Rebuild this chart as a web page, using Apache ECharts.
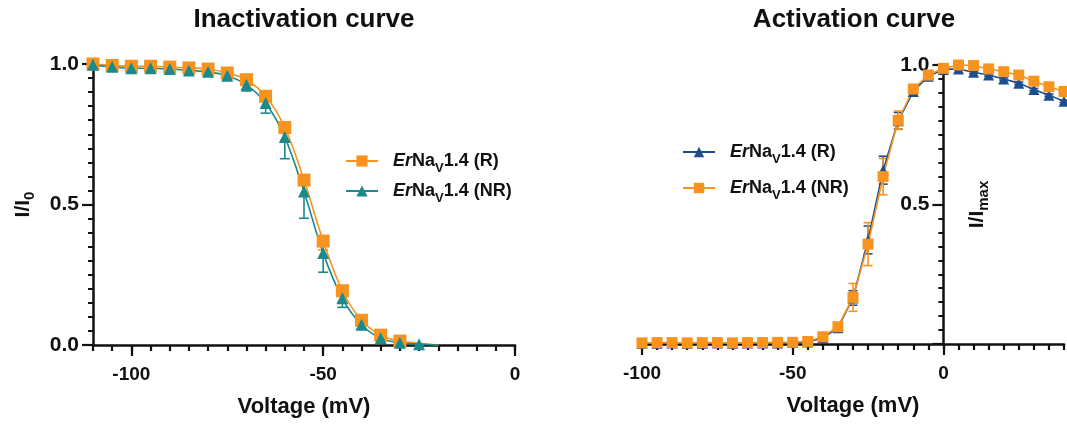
<!DOCTYPE html>
<html><head><meta charset="utf-8">
<script src="https://cdn.jsdelivr.net/npm/echarts@6/dist/echarts.min.js"></script>
<style>html,body{margin:0;padding:0;background:#fff}#c{width:1067px;height:427px}</style>
</head><body><div id="c"></div>
<script>
// ---------- Data ----------
const inactVoltage = [-110,-105,-100,-95,-90,-85,-80,-75,-70,-65,-60,-55,-50,-45,-40,-35,-30,-25];
const inactR      = [1.000,0.995,0.992,0.992,0.989,0.986,0.982,0.968,0.944,0.885,0.774,0.587,0.370,0.193,0.088,0.035,0.014,null];
const inactNR     = [0.997,0.990,0.985,0.985,0.982,0.977,0.972,0.958,0.926,0.861,0.740,0.546,0.327,0.166,0.072,0.024,0.008,0.003];
const inactErrR   = [0.003,0.003,0.003,0.003,0.003,0.004,0.005,0.006,0.008,0.012,0.044,0.056,0.032,0.040,0.012,0.006,0.004,null];
const inactErrNR  = [0.004,0.005,0.006,0.006,0.007,0.008,0.010,0.012,0.022,0.036,0.077,0.095,0.068,0.032,0.013,0.006,0.004,0.003];
const inactFitEnd = [-20, 0];

const actVoltage = [-100,-95,-90,-85,-80,-75,-70,-65,-60,-55,-50,-45,-40,-35,-30,-25,-20,-15,-10,-5,0,5,10,15,20,25,30,35,40];
const actR     = [0.003,0.003,0.004,0.003,0.003,0.004,0.003,0.004,0.004,0.004,0.005,0.007,0.022,0.058,0.165,0.373,0.623,0.800,0.905,0.960,0.984,0.986,0.974,0.964,0.950,0.935,0.912,0.892,0.870];
const actNR    = [0.004,0.005,0.005,0.004,0.005,0.005,0.004,0.005,0.005,0.006,0.006,0.009,0.026,0.062,0.167,0.358,0.600,0.802,0.914,0.964,0.988,1.000,0.998,0.986,0.976,0.964,0.942,0.922,0.905];
const actErrR  = [0.002,0.002,0.002,0.002,0.002,0.002,0.002,0.002,0.002,0.002,0.002,0.002,0.004,0.008,0.026,0.050,0.050,0.030,0.015,0.006,0.004,0.004,0.004,0.004,0.004,0.004,0.004,0.004,0.004];
const actErrNR = [0.002,0.002,0.002,0.002,0.002,0.002,0.002,0.002,0.002,0.002,0.002,0.002,0.004,0.010,0.050,0.077,0.065,0.033,0.012,0.006,0.004,0.003,0.003,0.003,0.003,0.003,0.003,0.003,0.003];

const xMajorTicks = [-100, -50, 0];
const yLabelsLeft = [0, 0.5, 1];
const yLabelsRight = [0.5, 1];
const titles = ['Inactivation curve', 'Activation curve'];
const legendSuffix = { inR: '(R)', inNR: '(NR)', acR: '(R)', acNR: '(NR)' };

// ---------- Style ----------
const FONT = 'Liberation Sans, Arial, Helvetica, sans-serif';
const ORANGE = '#F7931E', TEAL = '#1A8A8C', NAVY = '#1C4E8F';
const AX = '#111';

function pts(xs, ys) {
  const out = [];
  xs.forEach((x, i) => { if (ys[i] != null) out.push([x, ys[i]]); });
  return out;
}
function errData(xs, ys, errs, both) {
  const out = [];
  xs.forEach((x, i) => {
    if (ys[i] == null || errs[i] == null) return;
    out.push([x, ys[i], ys[i] - errs[i], both ? ys[i] + errs[i] : ys[i]]);
  });
  return out;
}
function errRender(capHalf, color) {
  return function (params, api) {
    const x = api.value(0), y = api.value(1), lo = api.value(2), hi = api.value(3);
    const pLo = api.coord([x, lo]), pHi = api.coord([x, hi]);
    const st = { stroke: color, lineWidth: 1.6 };
    const ch = [{ type: 'line', shape: { x1: pLo[0], y1: pLo[1], x2: pHi[0], y2: pHi[1] }, style: st }];
    if (lo < y) ch.push({ type: 'line', shape: { x1: pLo[0] - capHalf, y1: pLo[1], x2: pLo[0] + capHalf, y2: pLo[1] }, style: st });
    if (hi > y) ch.push({ type: 'line', shape: { x1: pHi[0] - capHalf, y1: pHi[1], x2: pHi[0] + capHalf, y2: pHi[1] }, style: st });
    return { type: 'group', children: ch };
  };
}

const richTxt = {
  b: { fontFamily: FONT, fontWeight: 'bold', fontSize: 21, color: AX, lineHeight: 28 },
  s: { fontFamily: FONT, fontWeight: 'bold', fontSize: 15, color: AX, verticalAlign: 'bottom' }
};
const legendRich = {
  it: { fontFamily: FONT, fontWeight: 'bold', fontStyle: 'italic', fontSize: 18, color: AX, lineHeight: 28 },
  n: { fontFamily: FONT, fontWeight: 'bold', fontSize: 18, color: AX, lineHeight: 28 },
  s: { fontFamily: FONT, fontWeight: 'bold', fontSize: 13, color: AX, verticalAlign: 'bottom' }
};
const legendFmt = name => '{it|Er}{n|Na}{s|V}{n|1.4 ' + legendSuffix[name] + '}';

function mainX(gridIndex, min, max) {
  return {
    type: 'value', gridIndex, min, max, interval: 5,
    axisLine: { onZero: false, lineStyle: { color: AX, width: 2.5 } },
    axisTick: { length: 6, lineStyle: { color: AX, width: 2.2 } },
    axisLabel: { customValues: xMajorTicks, margin: 20, fontFamily: FONT, fontWeight: 'bold', fontSize: 19, color: AX },
    splitLine: { show: false },
    name: 'Voltage (mV)', nameLocation: 'middle', nameGap: 51,
    nameTextStyle: { fontFamily: FONT, fontWeight: 'bold', fontSize: 22, color: AX }
  };
}
function overlayX(gridIndex, min, max) {
  return {
    type: 'value', gridIndex, min, max, position: 'bottom',
    axisLine: { show: false, onZero: false },
    axisTick: { customValues: xMajorTicks, length: 11, lineStyle: { color: AX, width: 2.2 } },
    axisLabel: { show: false }, splitLine: { show: false }
  };
}
function mainY(gridIndex, offset, labels, nameText, nameGap) {
  return {
    type: 'value', gridIndex, min: 0, max: 1, interval: 0.5, position: 'left', offset,
    axisLine: { onZero: false, lineStyle: { color: AX, width: 2.5 } },
    axisTick: { length: 11, lineStyle: { color: AX, width: 2.2 } },
    minorTick: { show: true, splitNumber: 10, length: 5, lineStyle: { color: AX, width: 2 } },
    axisLabel: { customValues: labels, margin: 14, fontFamily: FONT, fontWeight: 'bold', fontSize: 21, color: AX,
      formatter: v => v.toFixed(1) },
    splitLine: { show: false },
    name: nameText, nameLocation: 'middle', nameRotate: 90, nameGap,
    nameTextStyle: { rich: richTxt }
  };
}

const option = {
  animation: false,
  backgroundColor: '#fff',
  title: [
    { text: titles[0], left: 304, top: 7, textAlign: 'center', padding: 0,
      textStyle: { fontFamily: FONT, fontWeight: 'bold', fontSize: 26, color: AX } },
    { text: titles[1], left: 854, top: 7, textAlign: 'center', padding: 0,
      textStyle: { fontFamily: FONT, fontWeight: 'bold', fontSize: 26, color: AX } }
  ],
  grid: [
    { left: 93, top: 64, width: 422, height: 281 },
    { left: 642, top: 65, width: 422, height: 279 }
  ],
  legend: [
    { data: ['inR', 'inNR'], orient: 'vertical', left: 340, top: 147, itemWidth: 32, itemHeight: 14, itemGap: 7,
      formatter: legendFmt, textStyle: { padding: [0, 0, 0, 10], rich: legendRich }, selectedMode: false },
    { data: ['acR', 'acNR'], orient: 'vertical', left: 677, top: 138, itemWidth: 32, itemHeight: 13, itemGap: 13,
      formatter: legendFmt, textStyle: { padding: [0, 0, 0, 10], rich: legendRich }, selectedMode: false }
  ],
  xAxis: [ mainX(0, -110, 0), overlayX(0, -110, 0), mainX(1, -100, 40), overlayX(1, -100, 40) ],
  yAxis: [
    mainY(0, 0, yLabelsLeft, '{b|I/I}{s|0}', 56),
    mainY(1, -301.4, yLabelsRight, '{b|I/I}{s|max}', -48)
  ],
  series: [
    { type: 'custom', name: 'inRerr', xAxisIndex: 0, yAxisIndex: 0, renderItem: errRender(5, ORANGE),
      data: errData(inactVoltage, inactR, inactErrR, false), encode: { x: 0, y: 1 }, silent: true },
    { type: 'custom', name: 'inNRerr', xAxisIndex: 0, yAxisIndex: 0, renderItem: errRender(5, TEAL),
      data: errData(inactVoltage, inactNR, inactErrNR, false), encode: { x: 0, y: 1 }, silent: true },
    { type: 'line', name: 'inR', xAxisIndex: 0, yAxisIndex: 0, color: ORANGE, smooth: 0.35,
      symbol: 'rect', symbolSize: 13, showAllSymbol: true, lineStyle: { width: 1.6 },
      data: pts(inactVoltage, inactR).concat([{ value: inactFitEnd, symbol: 'none' }]) },
    { type: 'line', name: 'inNR', xAxisIndex: 0, yAxisIndex: 0, color: TEAL, smooth: 0.35,
      symbol: 'triangle', symbolSize: 12, showAllSymbol: true, lineStyle: { width: 1.6 },
      data: pts(inactVoltage, inactNR).concat([{ value: inactFitEnd, symbol: 'none' }]) },

    { type: 'custom', name: 'acRerr', xAxisIndex: 2, yAxisIndex: 1, renderItem: errRender(4.5, NAVY),
      data: errData(actVoltage, actR, actErrR, true), encode: { x: 0, y: 1 }, silent: true },
    { type: 'custom', name: 'acNRerr', xAxisIndex: 2, yAxisIndex: 1, renderItem: errRender(4.5, ORANGE),
      data: errData(actVoltage, actNR, actErrNR, true), encode: { x: 0, y: 1 }, silent: true },
    { type: 'line', name: 'acR', xAxisIndex: 2, yAxisIndex: 1, color: NAVY,
      symbol: 'triangle', symbolSize: 11, showAllSymbol: true, lineStyle: { width: 1.6 }, clip: false,
      data: pts(actVoltage, actR) },
    { type: 'line', name: 'acNR', xAxisIndex: 2, yAxisIndex: 1, color: ORANGE,
      symbol: 'rect', symbolSize: 11, showAllSymbol: true, lineStyle: { width: 1.6 }, clip: false,
      data: pts(actVoltage, actNR) }
  ]
};

const chart = echarts.init(document.getElementById('c'), null, { renderer: 'canvas' });
chart.setOption(option);
</script>
</body></html>
